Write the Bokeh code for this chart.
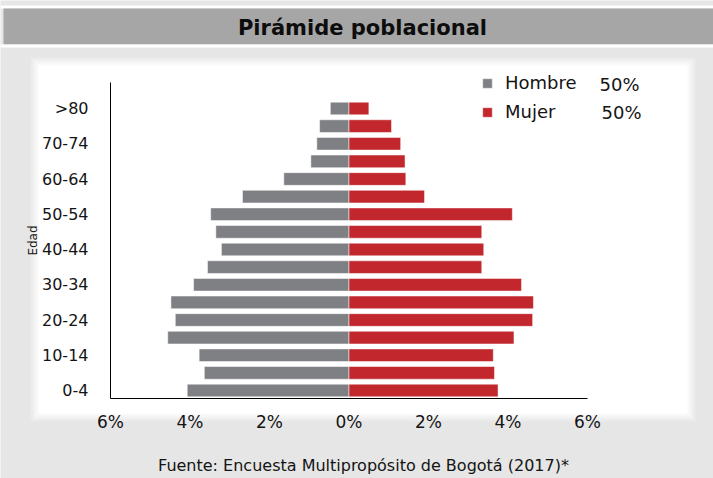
from bokeh.plotting import figure
from bokeh.models import BoxAnnotation, Label, Legend, LegendItem, FixedTicker, ColumnDataSource
from bokeh.embed import file_html
from bokeh.resources import INLINE

# ---------------- data ----------------
age_groups = ["0-4", "5-9", "10-14", "15-19", "20-24", "25-29", "30-34", "35-39",
              "40-44", "45-49", "50-54", "55-59", "60-64", "65-69", "70-74", "75-79", ">80"]
hombre = [4.07, 3.64, 3.77, 4.56, 4.37, 4.48, 3.91, 3.56, 3.21, 3.35, 3.48, 2.68,
          1.64, 0.96, 0.81, 0.74, 0.47]
mujer = [3.75, 3.66, 3.63, 4.15, 4.62, 4.64, 4.34, 3.34, 3.39, 3.34, 4.11, 1.90,
         1.43, 1.41, 1.30, 1.07, 0.50]
x_ticks = [-6, -4, -2, 0, 2, 4, 6]
x_tick_labels = ["6%", "4%", "2%", "0%", "2%", "4%", "6%"]
legend_labels = ["Hombre", "Mujer"]
legend_shares = ["50%", "50%"]
title_text = "Pirámide poblacional"
source_text = "Fuente: Encuesta Multipropósito de Bogotá (2017)*"
y_axis_title = "Edad"

# ---------------- style / layout ----------------
BG = "#e6e6e6"
TITLE_BG = "#a6a6a6"
GRAY = "#7f8084"
RED = "#c1272d"
TXT = "#141414"
FONT = "DejaVu Sans"

W, H = 713, 478
ZERO_X, PX_PER_PCT = 348.5, 39.75      # pixel of 0 % and px per 1 %
ROW0_Y, PX_PER_ROW = 390.0, 17.625     # pixel of first row centre, px per row
AX_LEFT_PX, AX_BOTTOM_PX, AX_TOP_PX = 110, 398, 82


def dx(px):
    return (px - ZERO_X) / PX_PER_PCT


def dy(py):
    return (ROW0_Y - py) / PX_PER_ROW


def sx(X):
    return X


def sy(Y):
    return H - Y


idx = list(range(len(age_groups)))
src = ColumnDataSource(dict(
    y=idx,
    m_left=[-v for v in hombre],
    zero=[0] * len(idx),
    f_right=mujer,
    group=age_groups,
))

p = figure(width=W, height=H, output_backend="svg", toolbar_location=None,
           x_range=(dx(0), dx(W)), y_range=(dy(H), dy(0)),
           min_border=0, background_fill_color=BG, border_fill_color=BG)
p.outline_line_color = None
p.xgrid.visible = False
p.ygrid.visible = False


def sbox(x0, y0, x1, y1, color, alpha=1.0):
    b = BoxAnnotation(left=sx(x0), right=sx(x1), top=sy(y0), bottom=sy(y1),
                      left_units="screen", right_units="screen",
                      top_units="screen", bottom_units="screen",
                      fill_color=color, fill_alpha=alpha, line_color=None,
                      level="underlay")
    p.add_layout(b)


# title bar
sbox(0, 5, W, 8, "white")
sbox(3, 8, W, 44, TITLE_BG)
sbox(0, 44, W, 47, "white")
# soft white panel
for d, a in [(8, 0.2), (6, 0.25), (4, 0.35), (2, 0.45)]:
    sbox(38 - d, 65 - d, 687 + d, 413 + d, "white", a)
sbox(38, 65, 687, 413, "white")

r_m = p.hbar(y="y", left="m_left", right="zero", height=0.72, source=src,
             fill_color=GRAY, line_color="white", line_alpha=0.5, line_width=1)
r_f = p.hbar(y="y", left="zero", right="f_right", height=0.72, source=src,
             fill_color=RED, line_color="white", line_alpha=0.5, line_width=1)

# axes (drawn at fixed positions inside the canvas-wide frame)
xa, ya = p.xaxis[0], p.yaxis[0]
xa.fixed_location = dy(AX_BOTTOM_PX)
xa.bounds = (x_ticks[0], x_ticks[-1])
ya.fixed_location = dx(AX_LEFT_PX)
ya.bounds = (dy(AX_BOTTOM_PX), dy(AX_TOP_PX))
xa.ticker = FixedTicker(ticks=x_ticks)
xa.major_label_overrides = {t: l for t, l in zip(x_ticks, x_tick_labels)}
ya.ticker = FixedTicker(ticks=idx[::2])
ya.major_label_overrides = {i: age_groups[i] for i in idx[::2]}
for ax in (xa, ya):
    ax.axis_line_color = "black"
    ax.axis_line_width = 1
    ax.major_tick_line_color = None
    ax.minor_tick_line_color = None
    ax.major_label_text_font = FONT
    ax.major_label_text_color = TXT
xa.major_label_text_font_size = "17px"
xa.major_label_standoff = 7
ya.major_label_text_font_size = "16px"
ya.major_label_standoff = 16
ya.axis_label = y_axis_title
ya.axis_label_text_font = FONT
ya.axis_label_text_font_size = "12px"
ya.axis_label_text_font_style = "normal"
ya.axis_label_text_color = TXT
ya.axis_label_standoff = -1

# legend
legend = Legend(items=[LegendItem(label=legend_labels[0], renderers=[r_m]),
                       LegendItem(label=legend_labels[1], renderers=[r_f])],
                location=(sx(481), sy(122)), orientation="vertical",
                padding=0, margin=0, spacing=8,
                glyph_width=12, glyph_height=12, label_height=20,
                label_standoff=12, label_text_font=FONT,
                label_text_font_size="18px", label_text_color=TXT,
                border_line_color=None, background_fill_alpha=0)
p.add_layout(legend, "center")
for share, (x, y) in zip(legend_shares, [(599, 84), (601, 112)]):
    p.add_layout(Label(x=sx(x), y=sy(y), x_units="screen", y_units="screen",
                       text=share, text_font=FONT, text_font_size="18px",
                       text_color=TXT, text_baseline="middle", text_align="left"))

# title and source
p.add_layout(Label(x=sx(362), y=sy(27), x_units="screen", y_units="screen",
                   text=title_text, text_font=FONT, text_font_size="21px",
                   text_font_style="bold", text_color="#0d0d0d",
                   text_align="center", text_baseline="middle"))
p.add_layout(Label(x=sx(363), y=sy(465), x_units="screen", y_units="screen",
                   text=source_text, text_font=FONT, text_font_size="16px",
                   text_color=TXT, text_align="center", text_baseline="middle"))

open("out.html", "w").write(file_html(p, INLINE))
